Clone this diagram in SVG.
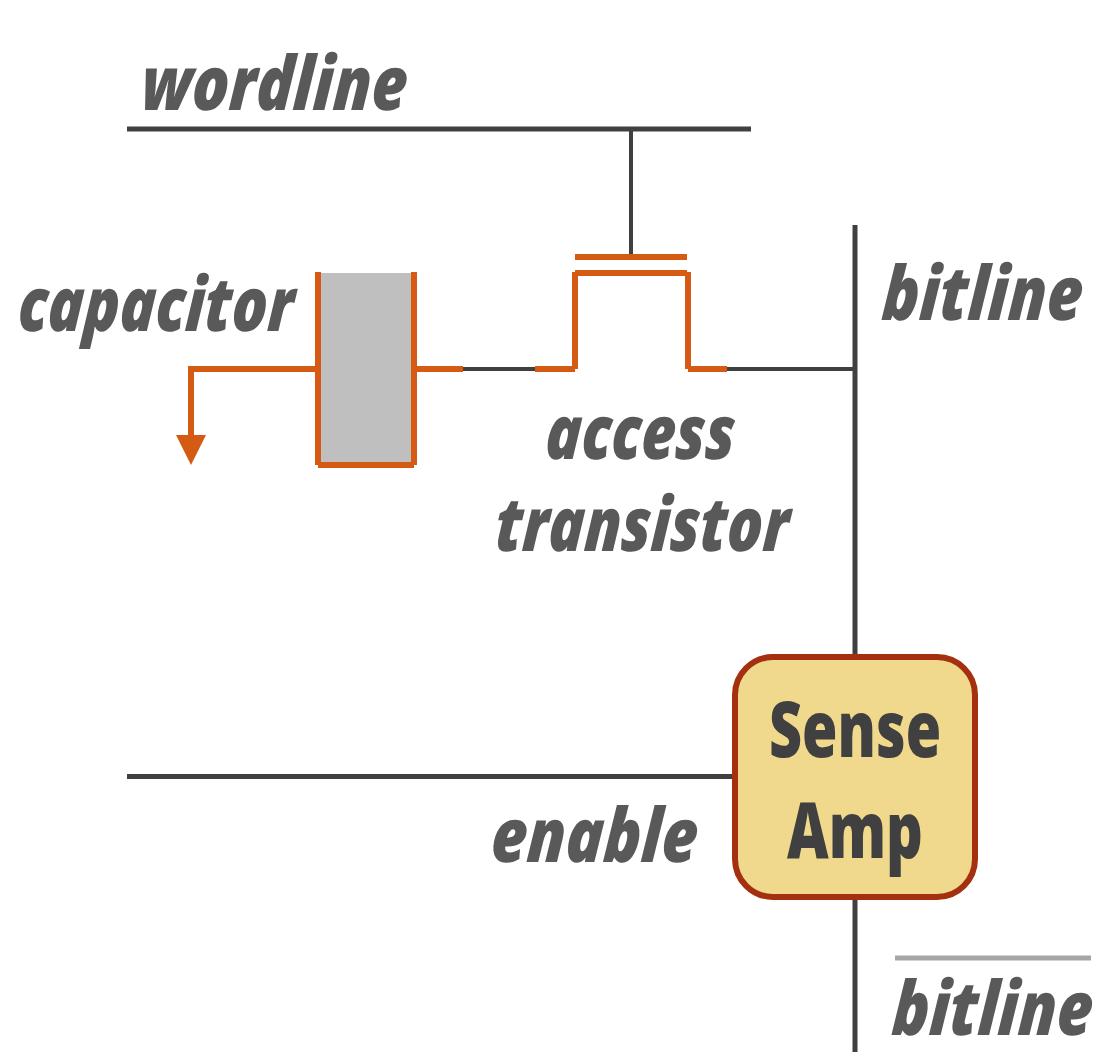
<svg xmlns="http://www.w3.org/2000/svg" width="1107" height="1052" viewBox="0 0 1107 1052">
<style>
.w{fill:none;stroke:#404040;stroke-width:5}
.t{fill:none;stroke:#404040;stroke-width:4}
.o{fill:none;stroke:#d55a13;stroke-width:6}
.l{font-family:"Open Sans","Liberation Sans",sans-serif;font-weight:800;font-style:italic;font-size:75px;fill:#595959;text-anchor:middle}
.s{font-family:"Open Sans","Liberation Sans",sans-serif;font-weight:800;font-size:78px;fill:#404040;text-anchor:middle}
</style>
<g id="connectors">
<path class="w" d="M127 129H751"/>
<path class="t" d="M631 129V257"/>
<path class="w" d="M855 225V656"/>
<path class="w" d="M855 897V1052"/>
<path class="w" d="M127 776.500H735"/>
<path class="t" d="M462 369H536"/>
<path class="t" d="M726 369H855"/>
</g>
<g id="capacitor">
<rect x="319" y="273" width="95" height="192" fill="#bfbfbf"/>
<path class="o" d="M318 272V465M414 272V465M318 465H414"/>
<path class="o" d="M417 369H463"/>
<path class="o" d="M316 369H191V438"/>
<polygon points="176,435 206,435 191,465" fill="#d55a13"/>
</g>
<g id="transistor">
<path class="o" d="M575 257H687"/>
<path class="o" d="M535 369H575M575 273H687M575 272V369M688 272V369M688 369H727"/>
</g>
<g id="sense-amp">
<rect x="735" y="657" width="240" height="240" rx="38" fill="#f0d98c" stroke="#a5300f" stroke-width="6"/>
<text class="s" transform="translate(855 757) scale(.736 1)">Sense</text>
<text class="s" transform="translate(855 858) scale(.736 1)">Amp</text>
</g>
<g id="labels">
<text class="l" transform="translate(273 110) skewX(-4) scale(.82 1)">wordline</text>
<text class="l" transform="translate(154.500 331) skewX(-4) scale(.79 1)">capacitor</text>
<text class="l" transform="translate(981 320) skewX(-4) scale(.825 1)">bitline</text>
<text class="l" transform="translate(639 459) skewX(-4) scale(.79 1)">access</text>
<text class="l" transform="translate(641 551) skewX(-4) scale(.79 1)">transistor</text>
<text class="l" transform="translate(593 862) skewX(-4) scale(.83 1)">enable</text>
<path d="M895 958H1091" fill="none" stroke="#a6a6a6" stroke-width="5"/>
<text class="l" transform="translate(991 1035) skewX(-4) scale(.825 1)">bitline</text>
</g>
</svg>
